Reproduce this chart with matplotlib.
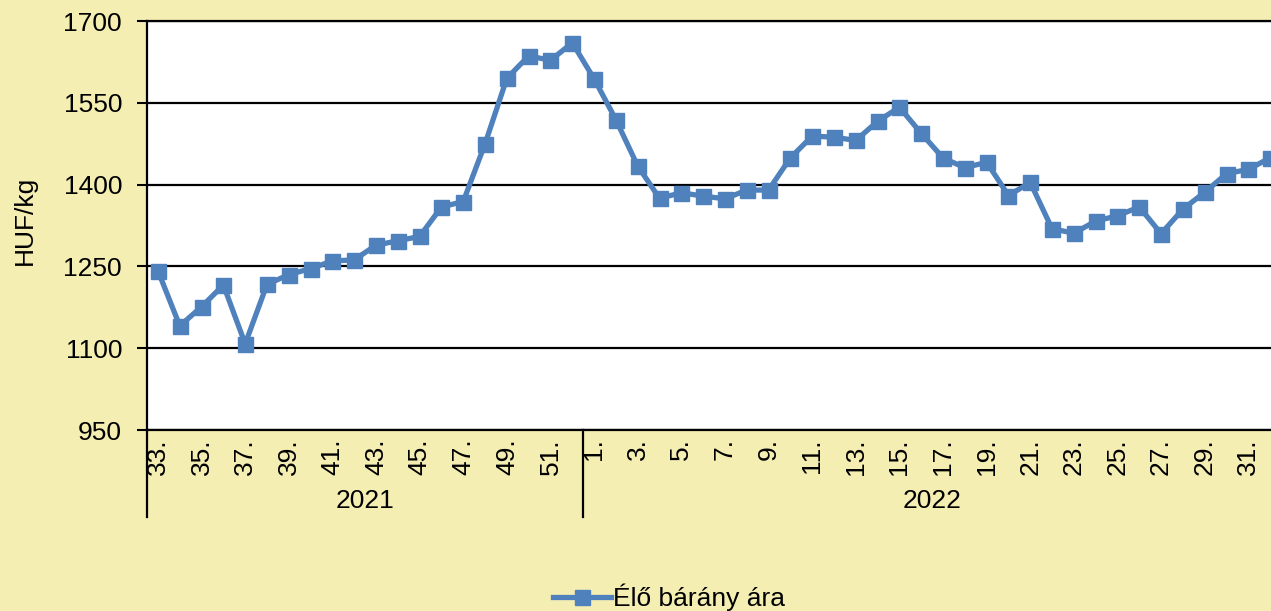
# encoding:utf-8
# weekly live lamb price, 2021-2022

import matplotlib.pyplot as plt
from matplotlib.lines import Line2D

plt.rcParams['font.family'] = ['Liberation Sans', 'DejaVu Sans']

BG_COLOR = '#F5EEB3'
LINE_COLOR = '#4F81BD'
FONT_SIZE = 19

weeks_2021 = list(range(33, 53))
price_2021 = [1242, 1141, 1176, 1216, 1108, 1217, 1235, 1246, 1260, 1262,
              1289, 1297, 1305, 1359, 1369, 1475, 1595, 1636, 1628, 1660]

weeks_2022 = list(range(1, 33))
price_2022 = [1594, 1519, 1434, 1375, 1385, 1379, 1374, 1390, 1390, 1449,
              1489, 1487, 1481, 1516, 1542, 1494, 1449, 1431, 1441, 1380,
              1404, 1319, 1311, 1333, 1343, 1359, 1310, 1355, 1386, 1420,
              1428, 1449]

years = ['2021', '2022']
y_ticks = [950, 1100, 1250, 1400, 1550, 1700]
series_name = 'Élő bárány ára'


def main():
    weeks = weeks_2021 + weeks_2022
    prices = price_2021 + price_2022
    x = list(range(len(weeks)))

    fig = plt.figure(figsize=(12.71, 6.11), dpi=100, facecolor=BG_COLOR)
    # plot area runs a little past the right edge of the figure
    ax = fig.add_axes([0.1157, 0.2962, 0.8922, 0.6694])
    ax.set_facecolor('white')

    ax.plot(x, prices, color=LINE_COLOR, linewidth=3.8, marker='s',
            markersize=10.8, label=series_name, zorder=3)

    ax.set_xlim(-0.5, len(weeks) - 0.5)
    ax.set_ylim(y_ticks[0], y_ticks[-1])
    ax.set_yticks(y_ticks)
    ax.yaxis.grid(True, color='black', linewidth=1.6)
    ax.set_axisbelow(True)

    ax.tick_params(axis='y', direction='out', length=7, width=1.5,
                   labelsize=FONT_SIZE, pad=11, color='black')
    ax.set_xticks(x[::2])
    ax.set_xticklabels([f'{w}.' for w in weeks[::2]], rotation=90)
    ax.tick_params(axis='x', length=0, labelsize=FONT_SIZE, pad=6)

    for side in ['left', 'bottom', 'top']:
        ax.spines[side].set_linewidth(1.6)
        ax.spines[side].set_color('black')
    ax.spines['right'].set_visible(False)

    ax.set_ylabel('HUF/kg', fontsize=FONT_SIZE)
    ax.yaxis.set_label_coords(-0.097, 0.513)

    # second level of the category axis: year separators and year labels
    trans = ax.get_xaxis_transform()
    n_2021 = len(weeks_2021)
    bounds = [-0.5, n_2021 - 0.5, len(weeks) - 0.5]
    for b in bounds:
        ax.add_line(Line2D([b, b], [0, -0.213], transform=trans,
                           color='black', linewidth=1.6, clip_on=False))
    for i, year in enumerate(years):
        mid = (bounds[i] + bounds[i + 1]) / 2
        ax.text(mid, -0.174, year, transform=trans, ha='center',
                va='center', fontsize=FONT_SIZE)

    fig.legend(loc='center', bbox_to_anchor=(669 / 1271, 1 - 597 / 611),
               frameon=False, fontsize=FONT_SIZE, handlelength=2.2,
               handletextpad=0.1)

    fig.savefig('out.png', dpi=100, facecolor=BG_COLOR)


if __name__ == '__main__':
    main()
